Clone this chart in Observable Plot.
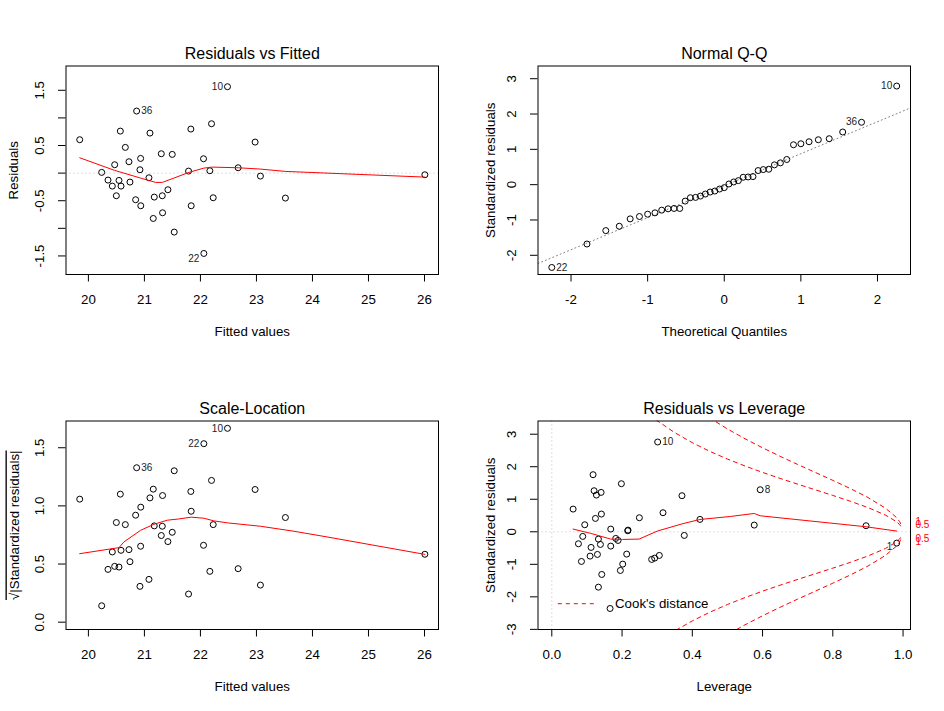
<!DOCTYPE html>
<html>
<head>
<meta charset="utf-8">
<script src="https://cdn.jsdelivr.net/npm/d3@7"></script>
<script src="https://cdn.jsdelivr.net/npm/@observablehq/plot@0.6"></script>
<style>
  html, body { margin: 0; padding: 0; background: #fff; }
  #chart { position: relative; width: 944px; height: 711px; background: #fff; }
  #chart > svg { position: absolute; }
</style>
</head>
<body>
<div id="chart"></div>
<script>
// ---------------- Data ----------------
// Residuals vs Fitted & Scale-Location (same observations, same order)
const fitted = [19.845, 20.237, 20.350, 20.427, 20.469, 20.499, 20.546, 20.570, 20.582, 20.659, 20.724, 20.742, 20.843, 20.861, 20.920, 20.932, 20.935, 21.081, 21.099, 21.158, 21.176, 21.301, 21.319, 21.324, 21.419, 21.497, 21.532, 21.788, 21.829, 21.835, 22.055, 22.061, 22.168, 22.198, 22.228, 22.483, 22.673, 22.976, 23.071, 23.517, 26.007];
const residuals = [0.605, 0.013, -0.126, -0.235, 0.152, -0.410, -0.132, 0.761, -0.235, 0.466, 0.206, -0.162, -0.482, 1.124, 0.061, 0.266, -0.591, -0.084, 0.725, -0.821, -0.434, 0.351, -0.410, -0.718, -0.301, 0.339, -1.068, 0.037, 0.798, -0.591, 0.260, -1.455, 0.043, 0.894, -0.446, 1.565, 0.097, 0.562, -0.054, -0.452, -0.030];
const sqrtAbsStdRes = [1.058, 0.141, 0.454, 0.604, 0.480, 0.857, 0.474, 1.101, 0.618, 0.839, 0.624, 0.520, 0.920, 1.328, 0.308, 0.653, 0.989, 0.368, 1.069, 1.144, 0.828, 0.745, 0.825, 1.089, 0.693, 0.773, 1.302, 0.242, 1.124, 0.954, 0.661, 1.535, 0.437, 1.219, 0.839, 1.667, 0.460, 1.141, 0.319, 0.900, 0.584];
const fittedIdIndex = [13, 31, 35];
const fittedIdText = ["36", "22", "10"];

// lowess smooth lines
const smoothFitX = [19.845, 20.469, 20.932, 21.200, 21.319, 21.526, 21.794, 22.061, 22.210, 22.673, 23.071, 23.517, 26.007];
const smoothFitY = [0.278, 0.049, -0.090, -0.168, -0.168, -0.090, 0.013, 0.091, 0.109, 0.097, 0.073, 0.031, -0.072];
const smoothScaleX = [19.845, 20.546, 20.634, 20.932, 21.170, 21.410, 21.620, 21.835, 22.061, 22.240, 22.483, 23.071, 23.670, 24.260, 26.007];
const smoothScaleY = [0.589, 0.641, 0.690, 0.790, 0.842, 0.877, 0.888, 0.903, 0.894, 0.871, 0.854, 0.825, 0.782, 0.733, 0.583];

// Normal Q-Q
const qqTheoretical = [-2.251, -1.792, -1.546, -1.370, -1.228, -1.107, -1.000, -0.904, -0.816, -0.733, -0.655, -0.581, -0.510, -0.442, -0.375, -0.311, -0.247, -0.184, -0.123, -0.061, 0.000, 0.061, 0.123, 0.184, 0.247, 0.311, 0.375, 0.442, 0.510, 0.581, 0.655, 0.733, 0.816, 0.904, 1.000, 1.107, 1.228, 1.370, 1.546, 1.792, 2.251];
const qqStdResid = [-2.345, -1.681, -1.301, -1.178, -0.969, -0.902, -0.836, -0.798, -0.722, -0.684, -0.674, -0.674, -0.465, -0.370, -0.361, -0.323, -0.266, -0.209, -0.181, -0.124, -0.085, 0.019, 0.076, 0.114, 0.209, 0.218, 0.228, 0.399, 0.427, 0.437, 0.560, 0.617, 0.712, 1.130, 1.158, 1.215, 1.272, 1.301, 1.491, 1.766, 2.792];
const qqIdIndex = [0, 39, 40];
const qqIdText = ["22", "36", "10"];
const qqLineIntercept = [-0.03];
const qqLineSlope = [0.906];

// Residuals vs Leverage
const leverage = [0.0607, 0.0758, 0.0844, 0.0881, 0.0938, 0.1090, 0.1118, 0.1175, 0.1204, 0.1242, 0.1270, 0.1299, 0.1327, 0.1327, 0.1384, 0.1403, 0.1412, 0.1422, 0.1659, 0.1678, 0.1678, 0.1820, 0.1886, 0.1952, 0.1981, 0.2019, 0.2132, 0.2161, 0.2170, 0.2493, 0.2843, 0.2929, 0.3014, 0.3061, 0.3166, 0.3706, 0.3772, 0.4218, 0.5763, 0.5933, 0.8947, 0.9819];
const levStdResid = [0.698, -0.368, -0.912, -0.142, 0.216, -0.748, -0.481, 1.755, 1.262, 0.411, 1.129, -0.696, -0.225, -1.702, -0.389, 1.211, 0.545, -1.312, -2.358, 0.083, -0.440, -0.204, -0.266, -1.189, 1.478, -0.994, -0.686, 0.032, 0.052, 0.432, -0.850, -0.809, 2.760, -0.727, 0.586, 1.109, -0.112, 0.381, 0.206, 1.293, 0.186, -0.348];
const levIdIndex = [32, 39, 41];
const levIdText = ["10", "8", "1"];
const smoothLevX = [0.0607, 0.1109, 0.1678, 0.2010, 0.2484, 0.3005, 0.3717, 0.4219, 0.5089, 0.5763, 0.5934, 0.8948, 0.9820];
const smoothLevY = [0.083, -0.049, -0.225, -0.235, -0.225, 0.022, 0.246, 0.379, 0.471, 0.563, 0.492, 0.154, 0.022];

// Cook's distance contours
const cookH = [0.20, 0.25, 0.30, 0.35, 0.40, 0.45, 0.50, 0.55, 0.60, 0.65, 0.70, 0.75, 0.80, 0.85, 0.90, 0.95, 0.98, 0.99, 0.998];
const cookHalf = [4.472, 3.873, 3.416, 3.047, 2.739, 2.472, 2.236, 2.023, 1.826, 1.641, 1.464, 1.291, 1.118, 0.939, 0.745, 0.513, 0.319, 0.225, 0.100];
const cookOne = [6.325, 5.477, 4.830, 4.309, 3.873, 3.496, 3.162, 2.860, 2.582, 2.321, 2.070, 1.826, 1.581, 1.328, 1.054, 0.725, 0.452, 0.318, 0.141];
const cookLevelLabels = ["1", "0.5", "0.5", "1"];
const cookLevelY = [-0.318, -0.225, 0.225, 0.318];

// Axis ticks and labels
const p1XTicks = [20, 21, 22, 23, 24, 25, 26];
const p1XLabels = ["20", "21", "22", "23", "24", "25", "26"];
const p1YTicks = [-1.5, -1, -0.5, 0, 0.5, 1, 1.5];
const p1YLabels = ["-1.5", "", "-0.5", "", "0.5", "", "1.5"];
const p2XTicks = [-2, -1, 0, 1, 2];
const p2XLabels = ["-2", "-1", "0", "1", "2"];
const p2YTicks = [-2, -1, 0, 1, 2, 3];
const p2YLabels = ["-2", "-1", "0", "1", "2", "3"];
const p3YTicks = [0, 0.5, 1, 1.5];
const p3YLabels = ["0.0", "0.5", "1.0", "1.5"];
const p4XTicks = [0, 0.2, 0.4, 0.6, 0.8, 1];
const p4XLabels = ["0.0", "0.2", "0.4", "0.6", "0.8", "1.0"];
const p4YTicks = [-3, -2, -1, 0, 1, 2, 3];
const p4YLabels = ["-3", "-2", "-1", "0", "1", "2", "3"];

// ---------------- Rendering ----------------
const FONT = '"Liberation Sans", Arial, Helvetica, sans-serif';
const W = 472, H = 356;
const GRAY = "#BEBEBE";

function fmt(ticks, labels) {
  return d => {
    const i = ticks.findIndex(t => Math.abs(t - d) < 1e-9);
    return i < 0 ? "" : labels[i];
  };
}
function rows(xs, ys) { return xs.map((x, i) => ({x, y: ys[i]})); }

function idLabels(xs, ys, idx, texts, sides, dys) {
  return idx.map((k, j) => Plot.text([{x: xs[k], y: ys[k], t: texts[j]}], {
    x: "x", y: "y", text: "t", fontSize: 10, fill: "#222",
    textAnchor: sides[j] === "left" ? "end" : "start",
    dx: sides[j] === "left" ? -4.5 : 4.5, dy: dys[j]
  }));
}

function panel({left, top, xDomain, yDomain, xTicks, xLabels, yTicks, yLabels, title, xTitle, yTitle, yTitleOffset, marks}) {
  const svg = Plot.plot({
    width: W, height: H,
    marginLeft: 65.5, marginRight: 34, marginTop: 65.5, marginBottom: 82,
    style: {fontFamily: FONT, fontSize: "13.3px", color: "black", background: "white", overflow: "visible"},
    x: {domain: xDomain, ticks: xTicks, tickFormat: fmt(xTicks, xLabels), tickSize: 7.5, tickPadding: 12.8, label: null},
    y: {domain: yDomain, ticks: yTicks, tickFormat: fmt(yTicks, yLabels), tickSize: 7.5, tickPadding: 14.5, tickRotate: -90, label: null},
    marks: [
      ...marks,
      Plot.frame({stroke: "black", strokeWidth: 1}),
      Plot.text([title], {frameAnchor: "top", textAnchor: "middle", lineAnchor: "bottom", dy: -7.5, fontSize: 16, fill: "black"}),
      Plot.text([xTitle], {frameAnchor: "bottom", textAnchor: "middle", lineAnchor: "bottom", dy: 61, fontSize: 13.3, fill: "black"}),
      Plot.text([yTitle], {frameAnchor: "left", textAnchor: "middle", lineAnchor: "bottom", rotate: -90, dx: -yTitleOffset, fontSize: 13.3, fill: "black"})
    ]
  });
  svg.style.left = left + "px";
  svg.style.top = top + "px";
  document.getElementById("chart").appendChild(svg);
  return svg;
}

const dotStyle = {x: "x", y: "y", r: 3, stroke: "black", strokeWidth: 1, fill: "none"};
const dotted = {strokeDasharray: "1,3", strokeWidth: 1};

// Panel 1: Residuals vs Fitted
panel({
  left: 0, top: 0,
  xDomain: [19.6, 26.25], yDomain: [-1.836, 1.94],
  xTicks: p1XTicks, xLabels: p1XLabels, yTicks: p1YTicks, yLabels: p1YLabels,
  title: "Residuals vs Fitted", xTitle: "Fitted values", yTitle: "Residuals", yTitleOffset: 48.5,
  marks: [
    Plot.ruleY([0], {stroke: GRAY, ...dotted}),
    Plot.dot(rows(fitted, residuals), dotStyle),
    Plot.line(rows(smoothFitX, smoothFitY), {x: "x", y: "y", stroke: "red", strokeWidth: 1}),
    ...idLabels(fitted, residuals, fittedIdIndex, fittedIdText, ["right", "left", "left"], [0, 5, 0])
  ]
});

// Panel 2: Normal Q-Q
const qqXDomain = [-2.431, 2.431];
const qqLineRows = qqXDomain.map(x => ({x, y: qqLineIntercept[0] + qqLineSlope[0] * x}));
panel({
  left: 472, top: 0,
  xDomain: qqXDomain, yDomain: [-2.544, 3.36],
  xTicks: p2XTicks, xLabels: p2XLabels, yTicks: p2YTicks, yLabels: p2YLabels,
  title: "Normal Q-Q", xTitle: "Theoretical Quantiles", yTitle: "Standardized residuals", yTitleOffset: 43.5,
  marks: [
    Plot.line(qqLineRows, {x: "x", y: "y", stroke: "#7F7F7F", ...dotted, clip: true}),
    Plot.dot(rows(qqTheoretical, qqStdResid), dotStyle),
    ...idLabels(qqTheoretical, qqStdResid, qqIdIndex, qqIdText, ["right", "left", "left"], [0, 0, 0])
  ]
});

// Panel 3: Scale-Location
const p3 = panel({
  left: 0, top: 355,
  xDomain: [19.6, 26.25], yDomain: [-0.063, 1.73],
  xTicks: p1XTicks, xLabels: p1XLabels, yTicks: p3YTicks, yLabels: p3YLabels,
  title: "Scale-Location", xTitle: "Fitted values", yTitle: "\u221A|Standardized residuals|", yTitleOffset: 47.5,
  marks: [
    Plot.dot(rows(fitted, sqrtAbsStdRes), dotStyle),
    Plot.line(rows(smoothScaleX, smoothScaleY), {x: "x", y: "y", stroke: "red", strokeWidth: 1}),
    ...idLabels(fitted, sqrtAbsStdRes, fittedIdIndex, fittedIdText, ["right", "left", "left"], [0, 0, 0])
  ]
});
p3.querySelectorAll("text").forEach(t => {
  if (t.textContent.startsWith("\u221A")) t.style.textDecoration = "overline";
});

// Panel 4: Residuals vs Leverage
const legendLine = (index, scales, values, dims) => {
  const ns = "http://www.w3.org/2000/svg";
  const ln = document.createElementNS(ns, "line");
  const y = dims.height - dims.marginBottom - 25.3;
  ln.setAttribute("x1", dims.marginLeft + 20.3);
  ln.setAttribute("x2", dims.marginLeft + 57.6);
  ln.setAttribute("y1", y);
  ln.setAttribute("y2", y);
  ln.setAttribute("stroke", "red");
  ln.setAttribute("stroke-dasharray", "4,4");
  return ln;
};
const cookStyle = {x: "x", y: "y", stroke: "red", strokeWidth: 1, strokeDasharray: "4,4", clip: true};
panel({
  left: 472, top: 355,
  xDomain: [-0.0393, 1.0212], yDomain: [-3.004, 3.406],
  xTicks: p4XTicks, xLabels: p4XLabels, yTicks: p4YTicks, yLabels: p4YLabels,
  title: "Residuals vs Leverage", xTitle: "Leverage", yTitle: "Standardized residuals", yTitleOffset: 43.5,
  marks: [
    Plot.ruleY([0], {stroke: GRAY, ...dotted}),
    Plot.ruleX([0], {stroke: GRAY, ...dotted}),
    Plot.dot(rows(leverage, levStdResid), dotStyle),
    Plot.line(rows(smoothLevX, smoothLevY), {x: "x", y: "y", stroke: "red", strokeWidth: 1}),
    Plot.line(rows(cookH, cookHalf), cookStyle),
    Plot.line(rows(cookH, cookHalf.map(v => -v)), cookStyle),
    Plot.line(rows(cookH, cookOne), cookStyle),
    Plot.line(rows(cookH, cookOne.map(v => -v)), cookStyle),
    Plot.text(cookLevelY.map((y, i) => ({y, t: cookLevelLabels[i]})), {y: "y", text: "t", frameAnchor: "right", textAnchor: "start", lineAnchor: "middle", dx: 5, fill: "red", fontSize: 10}),
    legendLine,
    Plot.text(["Cook's distance"], {frameAnchor: "bottom-left", textAnchor: "start", lineAnchor: "middle", dx: 77, dy: -25.3, fontSize: 13.3, fill: "black"}),
    ...idLabels(leverage, levStdResid, levIdIndex, levIdText, ["right", "right", "left"], [0, 0, 4])
  ]
});
</script>
</body>
</html>
